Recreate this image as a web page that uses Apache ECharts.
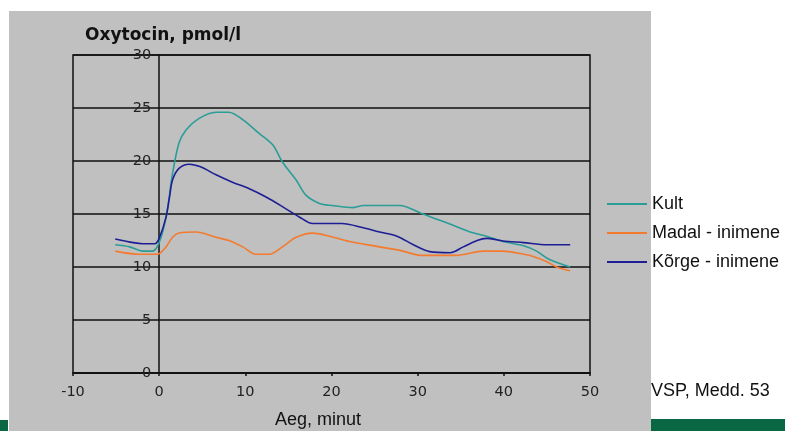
<!DOCTYPE html>
<html>
<head>
<meta charset="utf-8">
<script src="https://cdn.jsdelivr.net/npm/echarts@6/dist/echarts.min.js"></script>
<style>html,body{margin:0;padding:0;background:#fff}#c{width:785px;height:431px}</style>
</head>
<body>
<div id="c"></div>
<script>
const seriesNames = ['Kult', 'Madal - inimene', 'K\u00f5rge - inimene'];
const yTicks = [0, 5, 10, 15, 20, 25, 30];
const xTicks = [-10, 0, 10, 20, 30, 40, 50];

const kultT = [-5.1, -3.4, -1.9, -0.8, 0, 0.8, 1.55, 2.3, 3.1, 4.6, 6.6, 8.1, 9.7, 11.6, 13.2, 14.3, 15.9, 17.0, 18.6, 20.1, 22.5, 23.7, 27.9, 30.6, 33.3, 36.1, 38.0, 39.9, 42.3, 43.8, 45.3, 47.7];
const kultV = [12.1, 11.9, 11.5, 11.5, 12.3, 14.7, 18.8, 21.7, 22.9, 24.0, 24.6, 24.6, 23.9, 22.6, 21.5, 19.9, 18.2, 16.8, 16.0, 15.8, 15.6, 15.8, 15.8, 15.0, 14.2, 13.3, 12.9, 12.4, 12.0, 11.5, 10.7, 10.0];

const madalT = [-5.1, -2.3, -0.2, 0.8, 1.55, 2.3, 4.3, 6.6, 8.1, 9.7, 11.2, 12.8, 14.3, 15.9, 17.8, 19.8, 22.1, 25.6, 28.3, 30.3, 34.5, 37.6, 39.9, 42.3, 43.4, 45.0, 46.1, 47.7];
const madalV = [11.5, 11.2, 11.2, 11.9, 12.8, 13.2, 13.3, 12.8, 12.5, 11.9, 11.2, 11.2, 11.9, 12.8, 13.2, 12.9, 12.4, 11.9, 11.5, 11.1, 11.1, 11.5, 11.5, 11.2, 11.0, 10.5, 10.0, 9.65];

const korgeT = [-5.1, -3.0, -1.9, -0.5, 0, 0.8, 1.2, 1.55, 2.3, 3.5, 4.8, 6.6, 8.5, 10.4, 12.4, 14.3, 16.3, 17.8, 19.8, 21.2, 23.7, 25.6, 27.6, 29.5, 31.4, 33.8, 35.3, 36.9, 38.0, 39.9, 42.3, 45.0, 47.7];
const korgeV = [12.65, 12.3, 12.2, 12.2, 12.7, 14.7, 16.6, 18.2, 19.3, 19.7, 19.45, 18.7, 18.0, 17.4, 16.6, 15.7, 14.7, 14.1, 14.1, 14.1, 13.7, 13.3, 12.9, 12.1, 11.45, 11.35, 11.9, 12.5, 12.7, 12.45, 12.3, 12.1, 12.1];

const colors = ['#2a9d97', '#f47a2e', '#1e1e94'];
const zip = (a, b) => a.map((t, i) => [t, b[i]]);
const seriesData = [zip(kultT, kultV), zip(madalT, madalV), zip(korgeT, korgeV)];

const gridLeft = 73, gridRight = 195, chartW = 785;
const xMin = -10, xMax = 50;
const plotW = chartW - gridLeft - gridRight;
// shift the y axis (line + labels) onto x = 0
const yAxisOffset = -plotW * (0 - xMin) / (xMax - xMin);

const chart = echarts.init(document.getElementById('c'));
chart.setOption({
  backgroundColor: '#ffffff',
  animation: false,
  graphic: [
    { type: 'rect', shape: { x: 9, y: 11, width: 642, height: 420 }, style: { fill: '#c0c0c0' }, z: -10, silent: true },
    { type: 'rect', shape: { x: 0, y: 420, width: 8, height: 11 }, style: { fill: '#0a6743' }, z: -10, silent: true },
    { type: 'rect', shape: { x: 651, y: 419, width: 134, height: 12 }, style: { fill: '#0a6743' }, z: -10, silent: true },
    { type: 'text', left: 85, top: 27, style: { text: 'Oxytocin, pmol/l', font: 'bold 17px "DejaVu Sans"', fill: '#111' } },
    { type: 'text', left: 275, top: 411, style: { text: 'Aeg, minut', font: '18px "Liberation Sans"', fill: '#111' } },
    { type: 'text', left: 651, top: 382, style: { text: 'VSP, Medd. 53', font: '18px "Liberation Sans"', fill: '#111' } }
  ],
  grid: { left: gridLeft, right: gridRight, top: 55, bottom: 58, show: true, borderColor: '#111', borderWidth: 1.5, backgroundColor: 'transparent' },
  legend: {
    data: seriesNames,
    orient: 'vertical',
    left: 607,
    top: 195,
    padding: 0,
    icon: 'rect',
    itemWidth: 40,
    itemHeight: 2,
    itemGap: 11,
    textStyle: { fontFamily: 'Liberation Sans', fontSize: 18, color: '#111' }
  },
  xAxis: {
    type: 'value',
    min: xMin, max: xMax, interval: 10,
    axisLine: { onZero: false, lineStyle: { color: '#111', width: 1.5 } },
    axisTick: { show: true, length: 3, lineStyle: { color: '#111', width: 1.5 } },
    axisLabel: { margin: 12, fontFamily: 'DejaVu Sans', fontSize: 14.5, color: '#222', formatter: v => xTicks.includes(v) ? String(v) : '' },
    splitLine: { show: false }
  },
  yAxis: {
    type: 'value',
    min: 0, max: 30, interval: 5,
    offset: yAxisOffset,
    axisLine: { show: true, onZero: false, lineStyle: { color: '#111', width: 1.5 } },
    axisTick: { show: false },
    axisLabel: { margin: 8, fontFamily: 'DejaVu Sans', fontSize: 14.5, color: '#222', formatter: v => yTicks.includes(v) ? String(v) : '' },
    splitLine: { show: true, lineStyle: { color: '#111', width: 1.5 } }
  },
  series: seriesNames.map((n, i) => ({
    name: n,
    type: 'line',
    data: seriesData[i],
    smooth: 0.3,
    symbol: 'none',
    lineStyle: { color: colors[i], width: 1.6 },
    itemStyle: { color: colors[i] }
  }))
});
</script>
</body>
</html>
